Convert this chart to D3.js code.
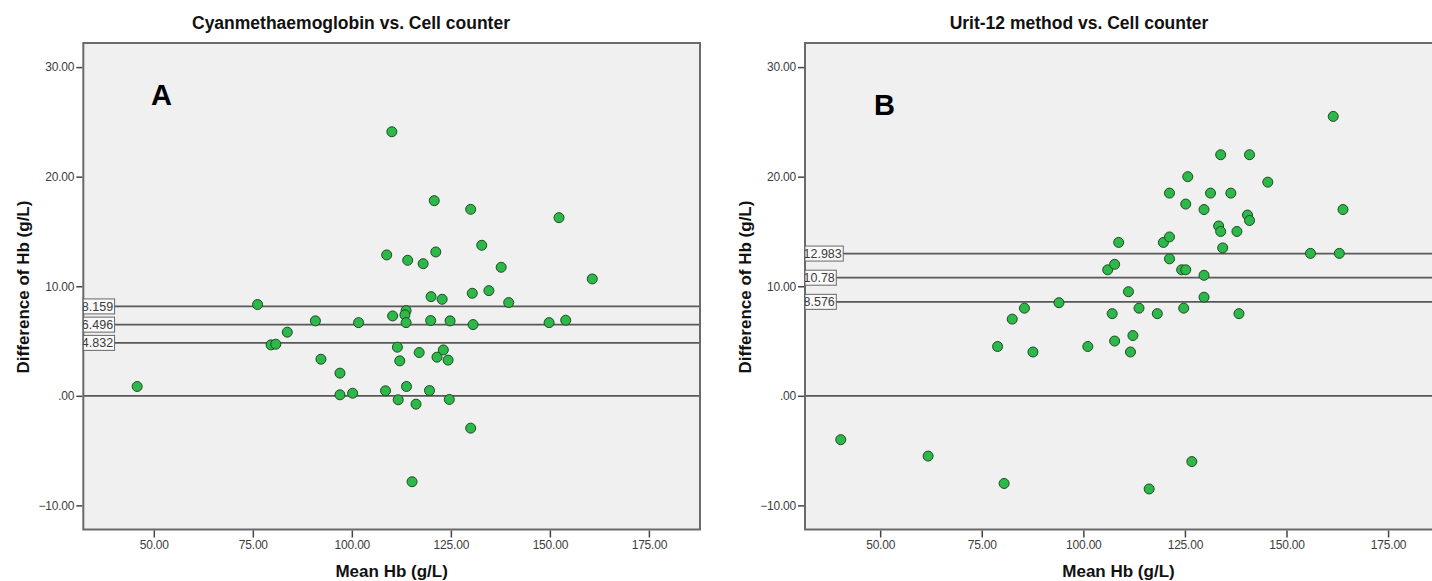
<!DOCTYPE html>
<html>
<head>
<meta charset="utf-8">
<script src="https://cdn.jsdelivr.net/npm/d3@7"></script>
<style>
  body { margin: 0; background: #fff; }
  svg text { font-family: Arial, "Liberation Sans", sans-serif; }
</style>
</head>
<body>
<div id="chart"></div>
<script>
// ticks shared by both panels
const xTicks = [50, 75, 100, 125, 150, 175];
const yTicks = [-10, 0, 10, 20, 30];

// panel A: Cyanmethaemoglobin vs. Cell counter
const meanA = [45.8, 76.2, 79.6, 80.8, 83.7, 90.8, 92.2, 97.0, 97.0, 100.2,
  101.7, 108.5, 108.8, 110.1, 110.3, 111.5, 111.7, 112.1, 113.7, 113.4,
  113.7, 113.8, 114.1, 115.2, 116.2, 117.0, 118.0, 119.6, 119.9, 120.0,
  120.8, 121.2, 121.5, 122.8, 123.1, 124.3, 124.6, 124.8, 130.0, 130.0,
  130.4, 130.6, 132.8, 134.6, 137.7, 139.6, 149.8, 152.3, 154.0, 160.7];
const diffA = [0.85, 8.33, 4.65, 4.71, 5.81, 6.84, 3.34, 2.07, 0.09, 0.24,
  6.68, 0.46, 12.86, 24.1, 7.29, 4.44, -0.36, 3.19, 7.78, 7.39,
  6.68, 0.85, 12.37, -7.84, -0.76, 3.95, 12.06, 0.48, 6.87, 9.05,
  17.81, 13.13, 3.53, 8.81, 4.19, 3.26, -0.33, 6.84, 17.02, -2.95,
  9.36, 6.50, 13.74, 9.60, 11.73, 8.51, 6.68, 16.26, 6.90, 10.67];
const refA = [8.159, 6.496, 4.832];

// panel B: Urit-12 method vs. Cell counter
const meanB = [40.3, 61.8, 78.9, 80.5, 82.5, 85.5, 87.6, 94.0, 101.1, 106.0,
  107.1, 107.7, 107.7, 108.7, 111.1, 111.6, 112.2, 113.7, 116.2, 118.2,
  119.7, 121.2, 121.2, 121.2, 124.2, 124.7, 125.2, 125.2, 125.7, 126.7,
  129.7, 129.7, 129.7, 131.3, 133.3, 133.8, 133.8, 134.3, 136.3, 137.8,
  138.3, 140.4, 140.9, 140.9, 145.4, 155.9, 161.5, 163.0, 163.9];
const diffB = [-4.0, -5.5, 4.5, -8.0, 7.0, 8.0, 4.0, 8.5, 4.5, 11.5,
  7.5, 12.0, 5.0, 14.0, 9.5, 4.0, 5.5, 8.0, -8.5, 7.5,
  14.0, 14.5, 18.5, 12.5, 11.5, 8.0, 17.5, 11.5, 20.0, -6.0,
  17.0, 11.0, 9.0, 18.5, 15.5, 22.0, 15.0, 13.5, 18.5, 15.0,
  7.5, 16.5, 22.0, 16.0, 19.5, 13.0, 25.5, 13.0, 17.0];
const refB = [12.983, 10.78, 8.576];

const W = 1432, H = 581;
const svg = d3.select("#chart").append("svg")
  .attr("width", W).attr("height", H);

function spssFmt(v) {
  var s = d3.format(".2f")(v);
  return s.replace(/^0\./, ".");
}

function drawPanel(p) {
  var x = d3.scaleLinear().domain(p.xDomain).range([p.left, p.right]);
  var y = d3.scaleLinear().domain([-12.2, 32.2]).range([529.5, 43]);
  var g = svg.append("g");

  g.append("rect")
    .attr("x", p.left).attr("y", y(32.2))
    .attr("width", p.right - p.left).attr("height", y(-12.2) - y(32.2))
    .attr("fill", "#f0f0f0");

  // zero line + mean / limit lines
  g.selectAll(".ref")
    .data([0].concat(p.refs))
    .enter().append("line")
    .attr("x1", p.left).attr("x2", p.right)
    .attr("y1", d => y(d)).attr("y2", d => y(d))
    .attr("stroke", "#585858").attr("stroke-width", 1.7);

  g.selectAll(".pt")
    .data(p.means.map((m, i) => ({ m: m, d: p.diffs[i] })))
    .enter().append("circle")
    .attr("cx", d => x(d.m)).attr("cy", d => y(d.d))
    .attr("r", 5)
    .attr("fill", "#2db84a")
    .attr("stroke", "#1f4a22").attr("stroke-width", 1);

  // frame
  g.append("rect")
    .attr("x", p.left).attr("y", y(32.2))
    .attr("width", p.right - p.left).attr("height", y(-12.2) - y(32.2))
    .attr("fill", "none").attr("stroke", "#6a6a6a").attr("stroke-width", 2);

  // reference line labels, SPSS style boxes clipped on the left
  p.refs.forEach(function(v, i) {
    var clipId = p.id + "clip" + i;
    var t = g.append("text")
      .attr("font-size", 12.5).attr("fill", "#3a3a3a")
      .attr("y", y(v) + 4.5)
      .text(String(v));
    var tw = t.node().getComputedTextLength();
    var bw = tw;
    g.append("clipPath").attr("id", clipId)
      .append("rect").attr("x", p.left).attr("y", y(v) - 8)
      .attr("width", bw).attr("height", 16);
    g.insert("rect", function() { return t.node(); })
      .attr("x", p.left).attr("y", y(v) - 7.5)
      .attr("width", bw).attr("height", 15)
      .attr("fill", "#fafafa").attr("stroke", "#666").attr("stroke-width", 1);
    t.attr("x", p.left + bw - tw - 1.5).attr("clip-path", "url(#" + clipId + ")");
  });

  // axes
  var yAxis = d3.axisLeft(y).tickValues(yTicks).tickFormat(spssFmt)
    .tickSize(6).tickPadding(2);
  var ya = g.append("g").attr("transform", "translate(" + (p.left - 1) + ",0)").call(yAxis);
  var xAxis = d3.axisBottom(x).tickValues(xTicks).tickFormat(spssFmt)
    .tickSize(7).tickPadding(3);
  var xa = g.append("g").attr("transform", "translate(0," + (y(-12.2) + 1) + ")").call(xAxis);
  [ya, xa].forEach(function(a) {
    a.select(".domain").remove();
    a.selectAll(".tick line").attr("stroke", "#444").attr("stroke-width", 1.5);
    a.selectAll(".tick text").attr("fill", "#3c3c3c").attr("font-size", 12)
      .attr("font-family", "Arial, 'Liberation Sans', sans-serif")
      .attr("letter-spacing", -0.2);
  });

  // titles
  g.append("text")
    .attr("x", p.titleX).attr("y", 29)
    .attr("text-anchor", "middle").attr("font-size", 17.5).attr("font-weight", "bold")
    .attr("fill", "#111")
    .text(p.title);
  g.append("text")
    .attr("x", (p.left + Math.min(p.right, W)) / 2).attr("y", 577)
    .attr("text-anchor", "middle").attr("font-size", 17).attr("font-weight", "bold")
    .attr("fill", "#111")
    .text("Mean Hb (g/L)");
  g.append("text")
    .attr("transform", "translate(" + (p.left - 54.5) + ",287) rotate(-90)")
    .attr("text-anchor", "middle").attr("font-size", 17).attr("font-weight", "bold")
    .attr("fill", "#111")
    .text("Difference of Hb (g/L)");
  g.append("text")
    .attr("x", p.tagX).attr("y", p.tagY)
    .attr("font-size", 29).attr("font-weight", "bold").attr("fill", "#000")
    .text(p.tag);
}

drawPanel({
  id: "a", left: 83.3, right: 700, xDomain: [32.2, 187.9],
  means: meanA, diffs: diffA, refs: refA,
  title: "Cyanmethaemoglobin vs. Cell counter", titleX: 351,
  tag: "A", tagX: 151, tagY: 105
});
drawPanel({
  id: "b", left: 805, right: 1434, xDomain: [31.5, 186.3],
  means: meanB, diffs: diffB, refs: refB,
  title: "Urit-12 method vs. Cell counter", titleX: 1079,
  tag: "B", tagX: 874, tagY: 115
});
</script>
</body>
</html>
